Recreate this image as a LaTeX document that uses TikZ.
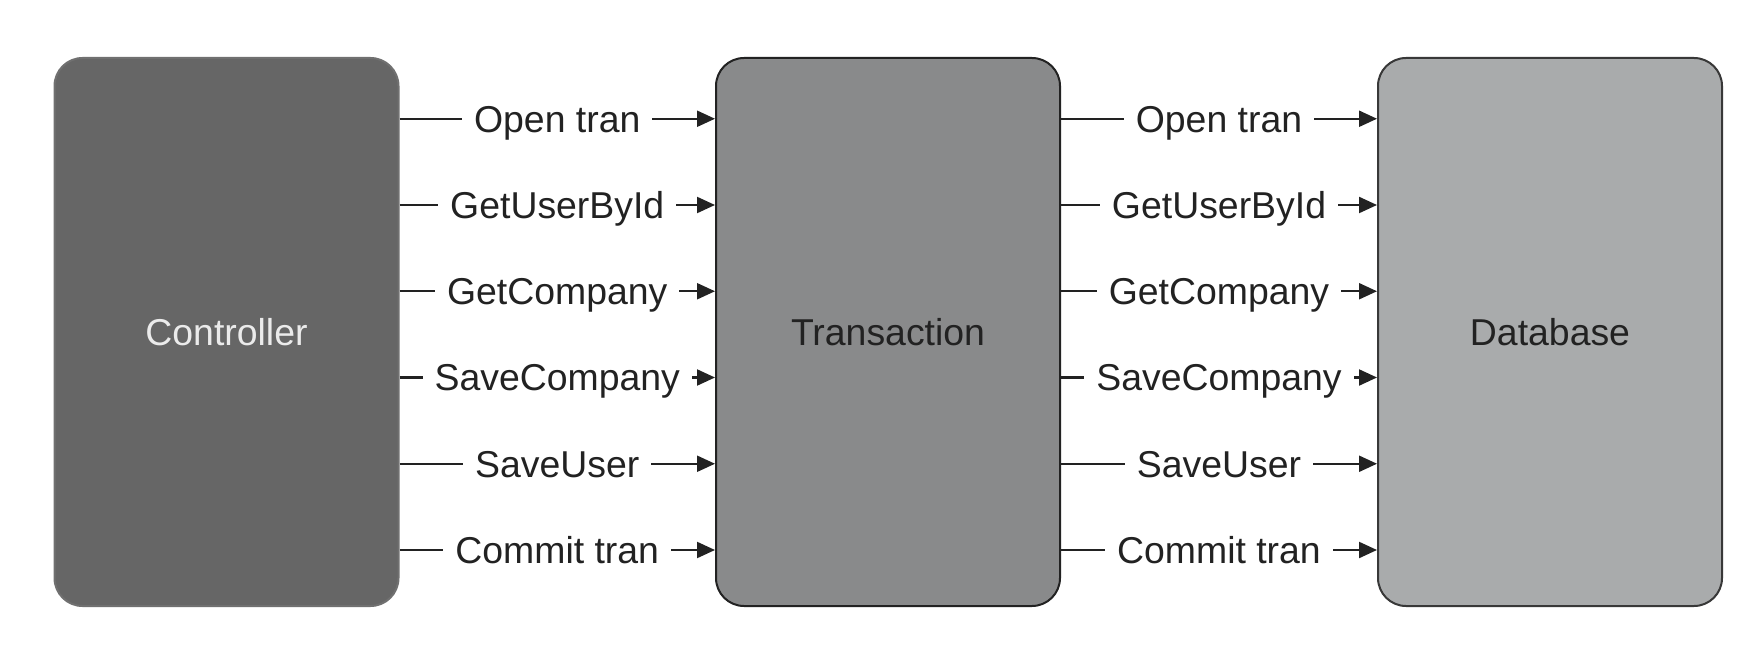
\documentclass[tikz,border=0pt]{standalone}
\usepackage{fontspec}
\setmainfont{Liberation Sans}
\usetikzlibrary{arrows.meta,positioning}
\definecolor{ctrlgray}{HTML}{666666}
\definecolor{trangray}{HTML}{898A8B}
\definecolor{dbgray}{HTML}{A9ABAC}
\definecolor{inkdark}{HTML}{222222}
\definecolor{rimgray}{HTML}{707070}

\begin{document}
\begin{tikzpicture}[x=0.5pt,y=-0.5pt,
    layer/.style={rounded corners=14pt,minimum width=172pt,minimum height=274pt,
      line width=1pt,font=\fontsize{18.7}{22}\selectfont},
    call/.style={fill=white,inner xsep=6pt,inner ysep=1pt,text=inkdark,
      text height=13.4pt,text depth=0pt,font=\fontsize{18.7}{22}\selectfont},
    flow/.style={draw=inkdark,line width=1.1pt,-{Triangle[length=9pt,width=8pt]}}]
  \useasboundingbox (0,0) rectangle (1756,668);
  \node[layer,fill=ctrlgray,draw=rimgray,text=white!92!black] (ctrl) at (226.5,332) {Controller};
  \node[layer,fill=trangray,draw=inkdark,text=inkdark] (tran) at (888,332) {Transaction};
  \node[layer,fill=dbgray,draw=inkdark!90,text=inkdark] (db) at (1550,332) {Database};
  % calls passed along each layer
  \foreach \txt [count=\i] in {Open tran,GetUserById,GetCompany,SaveCompany,SaveUser,Commit tran} {
    \coordinate (r\i) at (0,{32.5+86.25*\i});
    \draw[flow] (ctrl.east |- r\i) -- node[call] {\txt} (tran.west |- r\i);
    \draw[flow] (tran.east |- r\i) -- node[call] {\txt} (db.west |- r\i);
  }
\end{tikzpicture}
\end{document}
